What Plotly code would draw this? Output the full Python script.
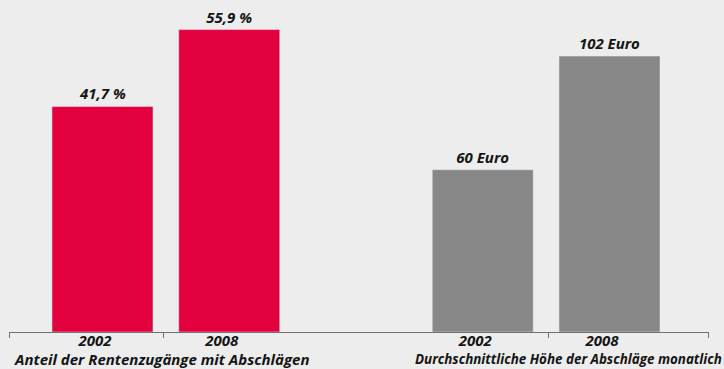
import plotly.graph_objects as go

# Data
years = ["2002", "2008"]
share_values = [41.7, 55.9]          # Anteil der Rentenzugänge mit Abschlägen (%)
euro_values = [60, 102]              # Durchschnittliche Höhe der Abschläge monatlich (Euro)
group_titles = ["Anteil der Rentenzugänge mit Abschlägen",
                "Durchschnittliche Höhe der Abschläge monatlich"]

# Layout helpers
left_pos = [0, 1]
right_pos = [3, 4]
bar_w = 0.797
font_family = "Open Sans"
red = "#e2003e"
grey = "#878787"
bg = "#ecedec"
txt = "#151515"
fs = 15
bold_it = dict(family=font_family, size=fs, color=txt, weight="bold", style="italic")
bold_it_small = dict(bold_it, size=13.4)

share_text = [f"{v:.1f}".replace(".", ",") + " %" for v in share_values]
euro_text = [f"{v} Euro" for v in euro_values]

fig = go.Figure()
fig.add_trace(go.Bar(
    x=left_pos, y=share_values, width=bar_w, marker_color=red,
    text=share_text, textposition="outside", cliponaxis=False,
    textfont=bold_it, yaxis="y", hoverinfo="skip"))
fig.add_trace(go.Bar(
    x=right_pos, y=euro_values, width=bar_w, marker_color=grey,
    text=euro_text, textposition="outside", cliponaxis=False,
    textfont=bold_it, yaxis="y2", hoverinfo="skip"))

label_shift = -0.06
tickvals = [p + label_shift for p in left_pos + right_pos]
ticktext = years + years

fig.update_layout(
    width=724, height=369,
    margin=dict(l=9, r=15, t=0, b=37, autoexpand=False),
    paper_bgcolor=bg, plot_bgcolor=bg,
    showlegend=False,
    xaxis=dict(range=[-0.7377, 4.785], showgrid=False, zeroline=False,
               showline=True, linecolor="#707070", linewidth=1,
               tickmode="array", tickvals=tickvals, ticktext=ticktext,
               ticks="", ticklabelstandoff=-5, automargin=False,
               tickfont=bold_it,
               minor=dict(tickmode="array", tickvals=[-0.737, 0.485, 3.52, 4.784],
                          ticks="outside", ticklen=5, tickcolor="#707070", tickwidth=1,
                          showgrid=False)),
    yaxis=dict(range=[0, 332 / 5.41], visible=False),
    yaxis2=dict(range=[0, 2 * 332 / 5.41], visible=False, overlaying="y"),
    annotations=[
        dict(text=group_titles[0], xref="paper", yref="paper", x=(12 - 9) / 700, y=0,
             xanchor="left", yanchor="top", yshift=-15, showarrow=False, font=bold_it),
        dict(text=group_titles[1], xref="paper", yref="paper", x=(413 - 9) / 700, y=0,
             xanchor="left", yanchor="top", yshift=-16, showarrow=False, font=bold_it_small),
    ],
)

fig.write_html("out.html")
